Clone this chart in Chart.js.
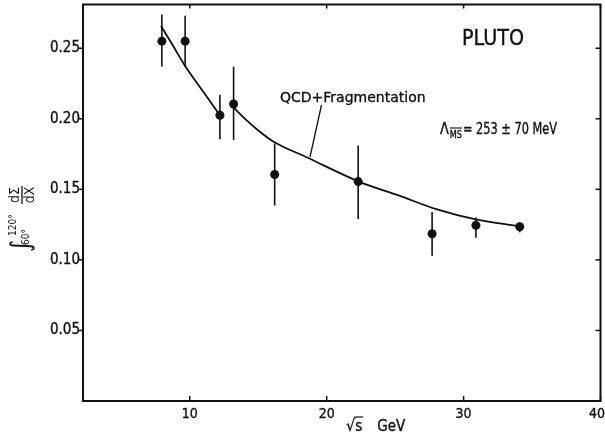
<!DOCTYPE html>
<html><head><meta charset="utf-8">
<script src="https://cdn.jsdelivr.net/npm/chart.js@4.4.1/dist/chart.umd.min.js"></script>
<style>html,body{margin:0;padding:0;background:#fff;overflow:hidden}canvas{display:block}</style>
</head><body><canvas id="c" width="605" height="435"></canvas>
<script>
// sqrt(s) in GeV and integrated EEC values
const energies = [7.96, 9.66, 12.2, 13.2, 16.2, 22.3, 27.7, 30.9, 34.1];
const values   = [0.255, 0.255, 0.2025, 0.2105, 0.1605, 0.1555, 0.1185, 0.1245, 0.1235];
const errHigh  = [0.274, 0.273, 0.217, 0.237, 0.1825, 0.181, 0.134, 0.130, 0.1265];
const errLow   = [0.237, 0.237, 0.1855, 0.185, 0.1385, 0.129, 0.103, 0.1157, 0.1195];
// QCD + Fragmentation curve (two pieces)
const curveLowX  = [7.9, 8.8, 9.66, 11.0, 12.2];
const curveLowY  = [0.2658, 0.2514, 0.2374, 0.219, 0.2025];
const curveHighX = [13.2, 14.2, 15.05, 16.0, 18.7, 22.3, 25.3, 28.0, 30.9, 34.1];
const curveHighY = [0.208, 0.1985, 0.1913, 0.1845, 0.172, 0.1557, 0.1455, 0.136, 0.1287, 0.1238];
// axis ticks
const xTicks = [10, 20, 30, 40];
const xTickLabels = ['10', '20', '30', '40'];
const yTicks = [0.05, 0.10, 0.15, 0.20, 0.25];
const yTickLabels = ['0.05', '0.10', '0.15', '0.20', '0.25'];

const FONT = '"DejaVu Sans Condensed", "DejaVu Sans", sans-serif';
const INK = '#111';

function txt(ctx, s, x, y, size, sx, align) {
  ctx.save();
  ctx.font = `${size}px ${FONT}`;
  ctx.textAlign = align || 'left';
  ctx.translate(x, y);
  ctx.scale(sx, 1);
  ctx.fillText(s, 0, 0);
  ctx.lineWidth = 0.35;
  ctx.strokeText(s, 0, 0);
  const w = ctx.measureText(s).width * sx;
  ctx.restore();
  return w;
}

const deco = {
  id: 'deco',
  afterDatasetsDraw(chart) {
    const {ctx, scales: {x, y}} = chart;
    ctx.save();
    ctx.strokeStyle = INK; ctx.lineWidth = 1.6;
    for (let i = 0; i < energies.length; i++) {
      const px = x.getPixelForValue(energies[i]);
      ctx.beginPath();
      ctx.moveTo(px, y.getPixelForValue(errHigh[i]));
      ctx.lineTo(px, y.getPixelForValue(errLow[i]));
      ctx.stroke();
    }
    ctx.restore();
  },
  afterDraw(chart) {
    const {ctx, chartArea: a, scales: {x, y}, width} = chart;
    ctx.save();
    ctx.strokeStyle = INK; ctx.fillStyle = INK;
    // frame
    ctx.lineWidth = 2;
    ctx.strokeRect(a.left, a.top, a.right - a.left, a.bottom - a.top);
    // ticks
    ctx.lineWidth = 1.5;
    xTicks.forEach(v => {
      const px = x.getPixelForValue(v);
      ctx.beginPath(); ctx.moveTo(px, a.bottom); ctx.lineTo(px, a.bottom - 5); ctx.stroke();
      ctx.beginPath(); ctx.moveTo(px, a.top); ctx.lineTo(px, a.top + 4); ctx.stroke();
    });
    yTicks.forEach(v => {
      const py = y.getPixelForValue(v);
      ctx.beginPath(); ctx.moveTo(a.left - 4, py); ctx.lineTo(a.left, py); ctx.stroke();
      ctx.beginPath(); ctx.moveTo(a.right, py); ctx.lineTo(a.right - 5, py); ctx.stroke();
    });
    // tick labels
    ctx.textBaseline = 'alphabetic';
    ctx.font = `14px ${FONT}`;
    xTicks.forEach((v, i) => {
      const w = ctx.measureText(xTickLabels[i]).width;
      const cx = Math.min(x.getPixelForValue(v), width - w / 2);
      txt(ctx, xTickLabels[i], cx, a.bottom + 17, 14, 1, 'center');
    });
    ctx.textBaseline = 'middle';
    yTicks.forEach((v, i) => txt(ctx, yTickLabels[i], a.left - 3, y.getPixelForValue(v), 15, 1, 'right'));
    ctx.textBaseline = 'alphabetic';
    // x title: sqrt(s) GeV
    const tx0 = 346, ty0 = 431;
    let w1 = txt(ctx, '√', tx0, ty0, 16, 1);
    let w2 = txt(ctx, 's', tx0 + w1, ty0, 15, 1);
    ctx.lineWidth = 1.2;
    ctx.beginPath(); ctx.moveTo(tx0 + w1 - 1, ty0 - 14); ctx.lineTo(tx0 + w1 + w2 + 1, ty0 - 14); ctx.stroke();
    txt(ctx, 'GeV', tx0 + w1 + w2 + 15, ty0, 15, 1);
    // y title: integral 60..120 dSigma/dX
    ctx.save();
    ctx.translate(22, 252);
    ctx.rotate(-Math.PI / 2);
    ctx.textBaseline = 'middle'; ctx.textAlign = 'left';
    ctx.font = `26px ${FONT}`;
    ctx.fillText('∫', 0, 0);
    ctx.font = `10px ${FONT}`;
    ctx.fillText('120°', 16, -9);
    ctx.fillText('60°', 7, 4);
    ctx.font = `14px ${FONT}`;
    ctx.textAlign = 'center';
    ctx.fillText('dΣ', 57, -7);
    ctx.fillText('dX', 57, 8);
    ctx.lineWidth = 1.3;
    ctx.beginPath(); ctx.moveTo(48, 0); ctx.lineTo(66, 0); ctx.stroke();
    ctx.restore();
    // PLUTO
    txt(ctx, 'PLUTO', 462, 45, 22, 0.97);
    // QCD + Fragmentation label with pointer
    ctx.save();
    ctx.font = `14px "DejaVu Sans", sans-serif`;
    ctx.textAlign = 'left';
    ctx.fillText('QCD+Fragmentation', 280, 102);
    ctx.lineWidth = 0.35; ctx.strokeText('QCD+Fragmentation', 280, 102);
    ctx.restore();
    ctx.lineWidth = 1.3;
    ctx.beginPath(); ctx.moveTo(321.5, 105); ctx.lineTo(310, 157); ctx.stroke();
    // Lambda MS-bar
    let lx = 440; const ly = 134;
    lx += txt(ctx, 'Λ', lx, ly, 16, 0.9) + 1;
    const msw = txt(ctx, 'MS', lx, ly + 4, 10, 0.9);
    ctx.lineWidth = 1.1;
    ctx.beginPath(); ctx.moveTo(lx, ly - 6); ctx.lineTo(lx + msw, ly - 6); ctx.stroke();
    lx += msw + 1;
    txt(ctx, '= 253 ± 70 MeV', lx, ly, 15, 0.84);
    ctx.restore();
  }
};

const lineStyle = {
  type: 'line', borderColor: INK, borderWidth: 1.8, pointRadius: 0,
  fill: false, cubicInterpolationMode: 'monotone', order: 2
};

new Chart(document.getElementById('c'), {
  data: {
    datasets: [
      Object.assign({ data: curveLowX.map((v, i) => ({x: v, y: curveLowY[i]})) }, lineStyle),
      Object.assign({ data: curveHighX.map((v, i) => ({x: v, y: curveHighY[i]})) }, lineStyle),
      {
        type: 'scatter',
        data: energies.map((v, i) => ({x: v, y: values[i]})),
        pointRadius: 4.5, pointBackgroundColor: INK, pointBorderColor: INK,
        pointBorderWidth: 0, order: 1
      }
    ]
  },
  options: {
    responsive: false, animation: false, devicePixelRatio: 1,
    layout: { padding: { left: 83, right: 4, top: 3, bottom: 34 } },
    plugins: { legend: { display: false }, tooltip: { enabled: false } },
    scales: {
      x: { type: 'linear', min: 2.2, max: 40, display: false },
      y: { type: 'linear', min: 0, max: 0.281, display: false }
    }
  },
  plugins: [deco]
});
</script>
</body></html>
